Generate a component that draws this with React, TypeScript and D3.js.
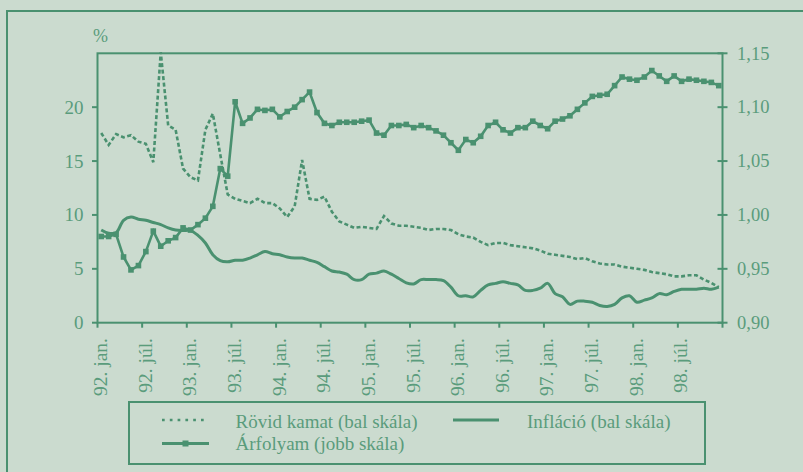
import * as d3 from 'd3'
import React from 'react'

// havi adatok, 1992. jan. – 1998. dec.
const tickLabels = [
  '92. jan.', '92. júl.', '93. jan.', '93. júl.', '94. jan.', '94. júl.', '95. jan.',
  '95. júl.', '96. jan.', '96. júl.', '97. jan.', '97. júl.', '98. jan.', '98. júl.',
]

const rovidKamat = [
  17.6, 16.5, 17.5, 17.2, 17.4, 16.8, 16.6, 14.9, 25.1, 18.3,
  17.9, 14.3, 13.5, 13.2, 17.9, 19.4, 15.6, 11.9, 11.5, 11.3,
  11.1, 11.5, 11.1, 11.1, 10.6, 9.8, 10.8, 15.1, 11.5, 11.4,
  11.7, 10.3, 9.4, 9.1, 8.8, 8.9, 8.8, 8.7, 9.9, 9.2,
  9.0, 9.0, 8.9, 8.8, 8.6, 8.7, 8.7, 8.6, 8.2, 8.0,
  7.9, 7.5, 7.2, 7.4, 7.4, 7.2, 7.1, 7.0, 6.9, 6.7,
  6.4, 6.3, 6.2, 6.1, 5.9, 6.0, 5.7, 5.5, 5.4, 5.4,
  5.2, 5.1, 5.0, 4.9, 4.7, 4.6, 4.5, 4.3, 4.3, 4.4,
  4.4, 4.0, 3.7, 3.3,
]

const inflacio = [
  8.6, 8.3, 8.35, 9.5, 9.8, 9.6, 9.5, 9.3, 9.1, 8.8,
  8.6, 8.55, 8.55, 8.1, 7.4, 6.3, 5.75, 5.65, 5.8, 5.8,
  6.0, 6.3, 6.6, 6.4, 6.3, 6.1, 6.0, 6.0, 5.8, 5.6,
  5.2, 4.8, 4.7, 4.5, 4.0, 4.0, 4.5, 4.6, 4.8, 4.5,
  4.1, 3.7, 3.6, 4.0, 4.0, 4.0, 3.9, 3.3, 2.5, 2.5,
  2.4, 3.0, 3.5, 3.65, 3.8, 3.65, 3.5, 3.0, 3.0, 3.2,
  3.65, 2.7, 2.4, 1.7, 2.0, 2.0, 1.9, 1.6, 1.5, 1.7,
  2.3, 2.5, 1.9, 2.1, 2.3, 2.7, 2.6, 2.9, 3.1, 3.1,
  3.1, 3.2, 3.1, 3.3,
]

const arfolyam = [
  0.980, 0.980, 0.982, 0.961, 0.949, 0.953, 0.966, 0.985, 0.971, 0.976,
  0.979, 0.988, 0.986, 0.991, 0.997, 1.008, 1.043, 1.036, 1.105, 1.085,
  1.090, 1.098, 1.097, 1.098, 1.091, 1.096, 1.100, 1.107, 1.114, 1.095,
  1.085, 1.083, 1.086, 1.086, 1.086, 1.087, 1.088, 1.076, 1.074, 1.083,
  1.083, 1.084, 1.081, 1.083, 1.081, 1.078, 1.074, 1.067, 1.060, 1.070,
  1.067, 1.073, 1.083, 1.086, 1.079, 1.076, 1.081, 1.081, 1.087, 1.083,
  1.080, 1.087, 1.089, 1.092, 1.098, 1.104, 1.110, 1.111, 1.112, 1.120,
  1.128, 1.126, 1.125, 1.128, 1.134, 1.129, 1.124, 1.129, 1.124, 1.126,
  1.125, 1.124, 1.123, 1.120,
]

const leftTicks = [0, 5, 10, 15, 20]
const rightTicks = [0.9, 0.95, 1.0, 1.05, 1.1, 1.15]

const GREEN = '#4a9170'
const TEXT = '#5a9c7c'
const BG = '#cbdbcf'
const FONT = 'Liberation Serif, DejaVu Serif, serif'

const Label = (props) => <text fill={TEXT} fontFamily={FONT} {...props} />

const App = () => {
  const left = 97.5
  const right = 722.5
  const top = 53.3
  const bottom = 322.7

  const months = d3.range(rovidKamat.length)
  const x = d3.scaleBand<number>().domain(months).range([left, right])
  const cx = (i: number) => (x(i) as number) + x.bandwidth() / 2
  const yLeft = d3.scaleLinear().domain([0, 25]).range([bottom, top])
  const yRight = d3.scaleLinear().domain([0.9, 1.15]).range([bottom, top])

  const lineLeft = d3.line<number>().x((d, i) => cx(i)).y((d) => yLeft(d))
  const lineInfl = d3
    .line<number>()
    .x((d, i) => cx(i))
    .y((d) => yLeft(d))
    .curve(d3.curveCatmullRom.alpha(0.5))
  const lineRight = d3.line<number>().x((d, i) => cx(i)).y((d) => yRight(d))
  const fmt = d3.format('.2f')

  const xTicks = d3.range(0, months.length + 1, 6).map((i) =>
    i < months.length ? (x(i) as number) : right
  )

  return (
    <div style={{ position: 'fixed', left: 0, top: 0 }}>
      <svg width={803} height={472} style={{ display: 'block' }}>
        <rect x={0} y={0} width={803} height={472} fill={BG} />
        <rect x={7} y={11} width={1000} height={1000} fill="none" stroke={GREEN} strokeWidth={2} />

        {/* tengelyek, keret */}
        <rect x={left} y={top} width={right - left} height={bottom - top} fill="none" stroke={GREEN} strokeWidth={2} />
        <Label x={93} y={42} fontSize={18}>%</Label>

        {leftTicks.map((t) => (
          <g key={'l' + t}>
            <line x1={left - 5.5} x2={left} y1={yLeft(t)} y2={yLeft(t)} stroke={GREEN} strokeWidth={2} />
            <Label x={83.5} y={yLeft(t)} dy="0.34em" textAnchor="end" fontSize={19}>
              {t}
            </Label>
          </g>
        ))}

        {rightTicks.map((t) => (
          <g key={'r' + t}>
            <line x1={right - 5} x2={right + 5} y1={yRight(t)} y2={yRight(t)} stroke={GREEN} strokeWidth={2} />
            <Label x={737} y={yRight(t)} dy="0.34em" fontSize={18.5}>
              {fmt(t).replace('.', ',')}
            </Label>
          </g>
        ))}

        {xTicks.map((tx, k) => (
          <g key={'x' + k}>
            <line x1={tx} x2={tx} y1={bottom} y2={bottom + 5} stroke={GREEN} strokeWidth={2} />
            {k < tickLabels.length && (
              <Label
                transform={`translate(${tx + 3},338) rotate(-90)`}
                textAnchor="end"
                dominantBaseline="central"
                fontSize={19.5}
              >
                {tickLabels[k]}
              </Label>
            )}
          </g>
        ))}

        {/* adatsorok */}
        <path d={lineLeft(rovidKamat) ?? ''} fill="none" stroke={GREEN} strokeWidth={2.6} strokeDasharray="4 2.5" />
        <path d={lineInfl(inflacio) ?? ''} fill="none" stroke={GREEN} strokeWidth={3} />
        <path d={lineRight(arfolyam) ?? ''} fill="none" stroke={GREEN} strokeWidth={2.6} />
        {arfolyam.map((d, i) => (
          <rect key={i} x={cx(i) - 2.8} y={yRight(d) - 2.8} width={5.6} height={5.6} fill={GREEN} />
        ))}

        {/* jelmagyarázat */}
        <rect x={129} y={402} width={576} height={62} fill="none" stroke={GREEN} strokeWidth={2} />
        <line x1={162} x2={207} y1={420} y2={420} stroke={GREEN} strokeWidth={2.7} strokeDasharray="2.7 5.1" />
        <Label x={235.5} y={428} fontSize={19}>Rövid kamat (bal skála)</Label>
        <line x1={453} x2={499} y1={420} y2={420} stroke={GREEN} strokeWidth={3} />
        <Label x={527} y={428} fontSize={19}>Infláció (bal skála)</Label>
        <line x1={162} x2={209} y1={443.5} y2={443.5} stroke={GREEN} strokeWidth={3} />
        <rect x={182.5} y={440.5} width={6} height={6} fill={GREEN} />
        <Label x={235.5} y={449.5} fontSize={19}>Árfolyam (jobb skála)</Label>
      </svg>
    </div>
  )
}

export default App
